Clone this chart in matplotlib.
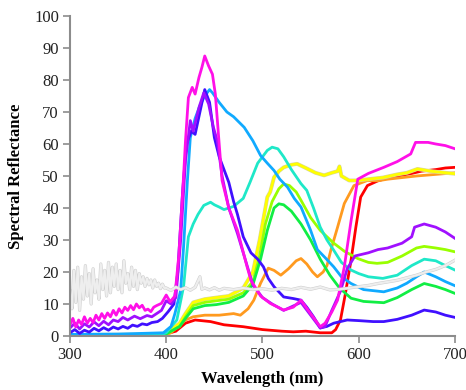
import matplotlib
matplotlib.use("Agg")
import matplotlib.pyplot as plt
import matplotlib.patheffects as pe

plt.rcParams['font.family'] = ['Liberation Serif', 'DejaVu Serif']

# spectral reflectance curves
red_wl = [300, 350, 398, 410, 420, 430, 446, 460, 480, 500, 520, 532, 545, 560, 572, 576, 581, 586, 592, 597,
          602, 609, 620, 632, 644, 655, 665, 680, 690, 700]
red_val = [0.2, 0.3, 0.5, 1.5, 4, 5, 4.5, 3.5, 2.9, 2, 1.5, 1.3, 1.5, 1, 1, 2, 5, 13, 23.7, 34,
           43.4, 47, 48.5, 49.5, 50.2, 50.8, 51.5, 52, 52.5, 52.7]

orange_wl = [300, 350, 398, 405, 410, 420, 428, 440, 455, 470, 477, 485, 491, 498, 506, 512, 519, 527, 535, 540,
             546, 552, 557, 563, 567, 571, 578, 585, 595, 609, 620, 630, 645, 660, 680, 700]
orange_val = [0.2, 0.3, 0.3, 1, 2.5, 5, 6, 6.5, 6.5, 7, 6.5, 8.5, 11.2, 16.5, 21.2, 20.5, 19, 21, 23.5, 24.2,
              22.5, 20, 18.5, 20, 22, 26.8, 34, 41.4, 47, 48.6, 48.5, 49, 49.5, 50, 50.5, 51]

yellow_wl = [300, 350, 398, 405, 414, 420, 428, 440, 452, 465, 480, 490, 497, 505, 508, 512, 517, 522, 530, 536,
             545, 555, 564, 572, 578, 580, 582, 590, 599, 610, 625, 640, 650, 661, 675, 690, 700]
yellow_val = [0.3, 0.4, 0.5, 2, 4, 7, 10.5, 11.5, 12, 12.5, 15, 20, 30, 43.4, 45, 49.6, 51.5, 52.7, 53.5, 53.8,
              52.5, 51, 50.2, 51, 51.5, 53, 50, 48.6, 48.6, 49, 49.5, 50.5, 51, 52.2, 51.5, 51, 50.7]

lime_wl = [300, 350, 398, 405, 414, 420, 428, 440, 452, 465, 480, 490, 497, 503, 510, 517, 522, 528, 535, 540,
           550, 560, 574, 585, 599, 610, 619, 630, 645, 660, 668, 680, 690, 700]
lime_val = [0.3, 0.3, 0.4, 1.5, 3, 6, 9.5, 10.5, 11, 11.5, 13.5, 17, 25, 35, 42, 46, 47.5, 47, 45, 42.4,
            37, 33, 29, 26.5, 24.2, 23, 22.7, 23, 25, 27.5, 28, 27.5, 27, 26.3]

green_wl = [300, 350, 398, 405, 414, 420, 428, 440, 452, 465, 480, 490, 498, 505, 512, 517, 522, 530, 540, 550,
            560, 570, 580, 592, 605, 626, 640, 655, 668, 680, 690, 700]
green_val = [0.2, 0.2, 0.3, 1.5, 3, 5.5, 8.5, 9.5, 9.8, 10.5, 12.5, 16, 24, 33, 40, 41.3, 41, 39, 35, 30,
             24, 19, 15, 11.8, 10.8, 10.4, 12, 14.5, 16.4, 15.5, 14.5, 13.3]

teal_wl = [300, 350, 395, 400, 411, 418, 423, 428, 433, 439, 446, 450, 455, 460, 465, 470, 480, 487, 495, 505,
           510, 516, 522, 530, 540, 546, 553, 560, 567, 574, 582, 592, 600, 610, 625, 640, 655, 668, 680, 690, 700]
teal_val = [0.3, 0.3, 0.4, 1, 5, 15.4, 31, 35, 38, 40.8, 41.8, 41, 40.3, 39.5, 40, 40.5, 43, 48, 54, 58,
            59, 58.5, 56, 52, 47.6, 45.5, 40, 34, 30, 26.8, 23, 20.6, 19.5, 18.5, 18, 19, 22, 24, 23.5, 22, 20.6]

sky_wl = [300, 350, 397, 405, 409, 415, 418, 422, 425, 430, 435, 440, 445, 448, 455, 463, 470, 481, 490, 498,
          505, 512, 518, 526, 533, 540, 550, 557, 565, 574, 582, 592, 605, 626, 640, 650, 660, 668, 680, 690, 700]
sky_val = [0.5, 0.6, 1, 3, 7, 14.3, 27.8, 48.6, 62, 68, 72, 75, 77, 76, 73, 70, 68.5, 65.2, 61, 56.4,
           54, 51.7, 49, 46.5, 43, 40.3, 33, 27, 24.5, 21.6, 18.5, 16.4, 14.5, 13.8, 15, 16.5, 18.5, 20, 18.5, 17, 15.7]

blue_wl = [300, 305, 310, 315, 320, 325, 330, 335, 340, 345, 350, 355, 360, 365, 370, 375, 380, 385, 391, 396,
           402, 408, 412, 417, 421, 426, 430, 435, 440, 445, 450, 455, 460, 465, 470, 474, 480, 488, 495, 501,
           506, 512, 522, 532, 540, 546, 553, 560, 567, 574, 588, 600, 615, 626, 640, 655, 668, 680, 690, 700]
blue_val = [1, 2, 0.8, 1.8, 1.2, 2.4, 1.6, 2.6, 1.8, 2.8, 2.2, 3, 2.4, 3.4, 3, 3.8, 3.5, 4.2, 4.5, 5.5,
            7.6, 10, 20, 45, 60, 64, 63, 70, 77, 73, 62, 56, 52, 48, 42, 38, 31, 26, 24, 21.6,
            18, 15.4, 12.2, 11.7, 11.2, 9, 6, 2.5, 3, 4, 5, 4.8, 4.5, 4.5, 5.2, 6.5, 8.1, 7.5, 6.5, 5.8]

purple_wl = [300, 305, 310, 315, 320, 325, 330, 335, 340, 345, 350, 355, 360, 367, 373, 380, 385, 390, 395, 400,
             405, 410, 415, 420, 425, 428, 434, 439, 444, 449, 453, 458, 465, 474, 484, 490, 500, 510, 522, 540,
             550, 560, 565, 572, 581, 588, 596, 610, 620, 630, 645, 655, 658, 668, 680, 690, 700]
purple_val = [2.5, 4, 2.2, 3.8, 2.8, 4.4, 3.2, 4.6, 3.5, 5, 4.5, 5.8, 5, 6.2, 5.4, 6.4, 6, 7, 8, 11,
              10, 12, 30, 55, 67.3, 64, 71.4, 76, 72.5, 65.2, 61, 50, 40, 32, 22, 16, 12, 10, 8, 10.5,
              6.5, 2.5, 3, 8, 14, 21, 25, 26, 27, 27.5, 29, 31, 34, 35, 34, 32.5, 30.5]

magenta_wl = [300, 303, 306, 309, 312, 315, 318, 321, 324, 327, 330, 333, 336, 339, 342, 345, 348, 351, 354, 357,
              360, 363, 366, 369, 372, 375, 378, 381, 384, 387, 390, 395,
              400, 404, 409, 413, 418, 420, 423, 427, 430, 434, 437, 440, 444, 448, 451, 455, 458, 465, 474, 484,
              488, 498, 508, 522, 532, 540, 550, 560, 565, 572, 578, 585, 592, 599, 610, 626, 640, 654, 659, 672,
              680, 690, 700]
magenta_val = [3.5, 5.5, 2.8, 5, 3.6, 6, 4, 5.5, 4.2, 6.5, 5, 7, 5.5, 7.2, 6, 8, 6.5, 8.5, 7.2, 9,
               8, 9.5, 8.2, 10, 8.8, 9.6, 8, 8.4, 7.6, 9, 9.5, 10.2,
               12.8, 10.7, 12.5, 25, 50, 61, 74.5, 77.7, 75.6, 80.8, 83.9, 87.5, 84.4, 81.8, 75.6, 60, 48.6, 40, 33, 21.6,
               17.4, 12.5, 10.2, 8.1, 9, 11.2, 7, 2.9, 4, 7.5, 11.2, 21.6, 36, 49, 50.8, 52.7, 54.5, 56.9, 60.5, 60.5,
               60, 59.5, 58.5]

# noisy grey reference trace
gray_wl = [300, 302, 304, 306, 308, 310, 312, 314, 316, 318, 320, 322, 324, 326, 328, 330, 332, 334, 336, 338,
           340, 342, 344, 346, 348, 350, 352, 354, 356, 358, 360, 362, 364, 366, 368, 370, 372, 374, 376, 378,
           380, 382, 384, 386, 388, 390, 392, 394, 396, 398, 400, 405, 410, 415, 420, 425, 430, 435, 437, 440,
           445, 450, 455, 460, 470, 480, 490, 500, 510, 520, 530, 540, 550, 560, 570, 580, 590, 600, 610, 620,
           630, 640, 650, 660, 670, 680, 690, 700]
gray_val = [14, 8.5, 20.5, 10.5, 21.5, 8, 18.5, 11.5, 22, 12.5, 19.5, 10, 21, 13.5, 17.5, 11.5, 22.5, 14.5, 20.5, 12.5,
            23, 13.5, 21.5, 15.5, 22.5, 14.5, 20.5, 13.5, 23.5, 16.5, 19.5, 14.5, 21.5, 15.5, 20.5, 14.5, 19.5, 16.5, 18.5, 15.5,
            18, 16, 17.5, 15, 17.5, 15.5, 16.5, 14.8, 16.2, 15, 15, 14.2, 15.3, 14.5, 15.1, 14.3, 15.2, 18.5, 14.6, 15.0,
            14.4, 15.1, 14.3, 14.9, 14.5, 15.0, 14.5, 14.8, 14.3, 14.9, 14.5, 15.2, 14.6, 15.3, 14.4, 14.6, 15.0, 15.4, 15.8, 16.4,
            16.9, 17.4, 18.2, 19.0, 20.0, 20.8, 22.0, 23.7]

series = [
    (red_wl, red_val, '#ff0000'),
    (orange_wl, orange_val, '#ff9a1f'),
    (yellow_wl, yellow_val, '#ffff00'),
    (lime_wl, lime_val, '#99ff00'),
    (green_wl, green_val, '#11ee44'),
    (teal_wl, teal_val, '#1ee8c8'),
    (sky_wl, sky_val, '#10aaff'),
    (blue_wl, blue_val, '#4010ff'),
    (purple_wl, purple_val, '#a010ff'),
    (magenta_wl, magenta_val, '#ff10e8'),
]

fig = plt.figure(figsize=(4.66, 3.90), dpi=100)
ax = fig.add_axes([0.1502, 0.1385, 0.8262, 0.8205])

for wl, val, col in series:
    if col == '#ffff00':
        # yellow needs a faint outline to show on white
        ax.plot(wl, val, color=col, lw=2,
                path_effects=[pe.Stroke(linewidth=2.8, foreground='#d6d6a8'), pe.Normal()])
    else:
        ax.plot(wl, val, color=col, lw=2)
ax.plot(gray_wl, gray_val, color='#eeeeee', lw=1.5,
        path_effects=[pe.Stroke(linewidth=2.3, foreground='#cfcfcf'), pe.Normal()])

ax.set_xlim(300, 700)
ax.set_ylim(0, 100)
ax.set_xticks([300, 400, 500, 600, 700])
ax.set_yticks(range(0, 101, 10))

for s in ['top', 'right']:
    ax.spines[s].set_visible(False)
for s in ['left', 'bottom']:
    ax.spines[s].set_color('#8c8c8c')
    ax.spines[s].set_linewidth(1.5)
ax.tick_params(axis='both', direction='out', length=5, width=1.2, color='#8c8c8c',
               labelsize=12, labelcolor='#222222', pad=3)

ax.set_xlabel('Wavelength (nm)', fontsize=12, fontweight='bold')
ax.set_ylabel('Spectral Reflectance', fontsize=12, fontweight='bold')
ax.xaxis.set_label_coords(0.5, -0.11)
ax.yaxis.set_label_coords(-0.12, 0.5)

fig.savefig('out.png', dpi=100)
